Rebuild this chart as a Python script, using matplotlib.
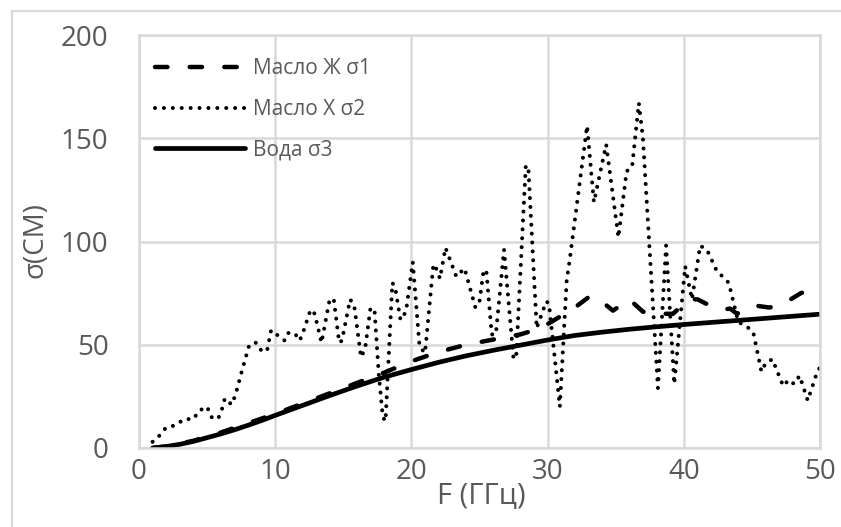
import numpy as np
import matplotlib
matplotlib.use("Agg")
import matplotlib.pyplot as plt
from matplotlib.lines import Line2D

plt.rcParams['font.family'] = ['Open Sans', 'DejaVu Sans']

# Масло Ж σ1 (dashed)
dashed_x = [1, 2, 4, 6, 8, 10, 12, 14, 16, 18, 20, 22, 24, 26, 28, 29, 30, 31, 32, 33,
            33.6, 34.8, 36.0, 37.0, 38.0, 39.2, 40.4, 41.0, 41.6, 42.8, 43.4, 43.9,
            45.2, 46.3, 47.6, 48.6, 49.4, 50]
dashed_y = [0, 0.8, 3.5, 7.5, 12, 16.5, 21.5, 26.5, 31.5, 36.5, 42, 46.5, 50, 52.5, 55, 57, 60, 64, 68, 73,
            73, 66.5, 72, 66, 65, 65, 72, 72, 70, 67, 67.5, 65,
            69, 68, 71, 75, 77, 81]

# Масло Х σ2 (dotted)
dotted_x = [1.0, 1.5, 2.0, 2.7, 3.3, 4.0, 4.4, 5.0, 5.3, 5.8,
            6.1, 6.3, 6.8, 7.1, 7.5, 8.1, 8.6, 9.0, 9.4, 9.7,
            10.1, 10.7, 11.0, 11.5, 11.8, 12.1, 12.6, 12.9, 13.4, 14.0,
            14.3, 14.7, 14.9, 15.5, 15.8, 16.3, 16.6, 17.0, 17.3, 17.6, 17.9,
            18.1, 18.6, 18.8, 19.2, 19.6, 20.1, 20.6, 21.0, 21.6, 21.7,
            22.1, 22.5, 23.3, 23.9, 24.7, 25.0, 25.3, 25.5, 25.9, 26.2,
            26.8, 27.5, 27.7, 28.4, 28.6, 29.2, 29.9, 30.1, 30.9, 31.4,
            31.6, 32.9, 33.4, 34.3, 35.2, 35.8, 36.2, 36.7, 37.0, 38.1,
            38.7, 39.3, 40.1, 40.6, 41.2, 41.7, 42.4, 43.3, 44.0, 44.6,
            45.1, 45.7, 46.0, 46.5, 47.3, 47.7, 48.1, 48.5, 49.1, 49.8,
            50.0]
dotted_y = [3, 6, 10, 11, 14, 14, 18, 20, 15, 14,
            19, 24, 21, 26, 36, 50, 51, 47, 47, 57,
            55, 52, 56, 55, 52, 57, 67, 65, 51, 72,
            72, 51, 52, 72, 69, 44, 48, 68, 66, 36, 15,
            13, 80, 78, 62, 66, 90, 49, 46, 88, 89,
            82, 97, 83, 87, 68, 71, 86, 86, 55, 55,
            96, 43, 45, 137, 134, 58, 71, 70, 20, 81,
            90, 156, 119, 147, 102, 134, 136, 167, 150, 29,
            98, 31, 88, 72, 98, 96, 86, 80, 61, 59,
            56, 37, 41, 43, 30, 33, 31, 35, 23, 37,
            39]

# Вода σ3 (solid)
solid_x = [1, 2, 3, 4, 5, 6, 7, 8, 9, 10, 12, 14, 16, 18, 20, 22, 24, 26, 28, 30,
           32, 34, 36, 38, 40, 42, 44, 46, 48, 50]
solid_y = [0, 0.7, 1.8, 3.2, 5, 6.8, 8.8, 11, 13.3, 15.8, 20.6, 25.4, 30, 34.3, 38, 41.5, 44.6, 47.3, 49.8, 52.3,
           54.5, 56.1, 57.5, 58.7, 59.8, 60.8, 61.8, 62.8, 63.8, 64.8]

labels = ['Масло Ж σ1', 'Масло Х σ2', 'Вода σ3']
grid_c = '#d9d9d9'
text_c = '#595959'

fig = plt.figure(figsize=(8.41, 5.27), dpi=100)
ax = fig.add_axes([139 / 841, 1 - 448 / 527, (820 - 139) / 841, (448 - 35) / 527])

ax.plot(dashed_x, dashed_y, color='black', lw=3.2, dashes=(2.8, 5.0),
        dash_capstyle='round', label=labels[0])
ax.plot(dotted_x, dotted_y, color='black', lw=2.9, dashes=(0.01, 2.2),
        dash_capstyle='round', label=labels[1])
ax.plot(solid_x, solid_y, color='black', lw=3.4, solid_capstyle='round', label=labels[2])

ax.set_xlim(0, 50)
ax.set_ylim(0, 200)
ax.set_xticks(np.arange(0, 51, 10))
ax.set_yticks(np.arange(0, 201, 50))
ax.grid(True, color=grid_c, lw=1.8)
ax.set_axisbelow(True)
for s in ax.spines.values():
    s.set_color(grid_c)
    s.set_linewidth(1.8)
ax.tick_params(length=0, labelsize=20, labelcolor=text_c)
ax.tick_params(axis='y', pad=22)
ax.tick_params(axis='x', pad=7)

fig.text(36 / 841, 1 - 240 / 527, 'σ(СМ)', rotation=90, ha='center', va='center',
         fontsize=20, color=text_c)
fig.text(481 / 841, 1 - 496 / 527, 'F (ГГц)', ha='center', va='center',
         fontsize=21, color=text_c)

leg = ax.legend(loc='upper left', bbox_to_anchor=(155 / 841, 1 - 58 / 527),
                bbox_transform=fig.transFigure, frameon=False, fontsize=15,
                handlelength=4.3, handletextpad=0.4, labelspacing=0.95,
                borderpad=0, borderaxespad=0)
for t in leg.get_texts():
    t.set_color(text_c)

# chart area border
fig.add_artist(Line2D([12 / 841, 1], [1 - 11 / 527, 1 - 11 / 527], color=grid_c, lw=1.6))
fig.add_artist(Line2D([12 / 841, 12 / 841], [0, 1 - 11 / 527], color=grid_c, lw=1.6))

fig.savefig('out.png', dpi=100)
